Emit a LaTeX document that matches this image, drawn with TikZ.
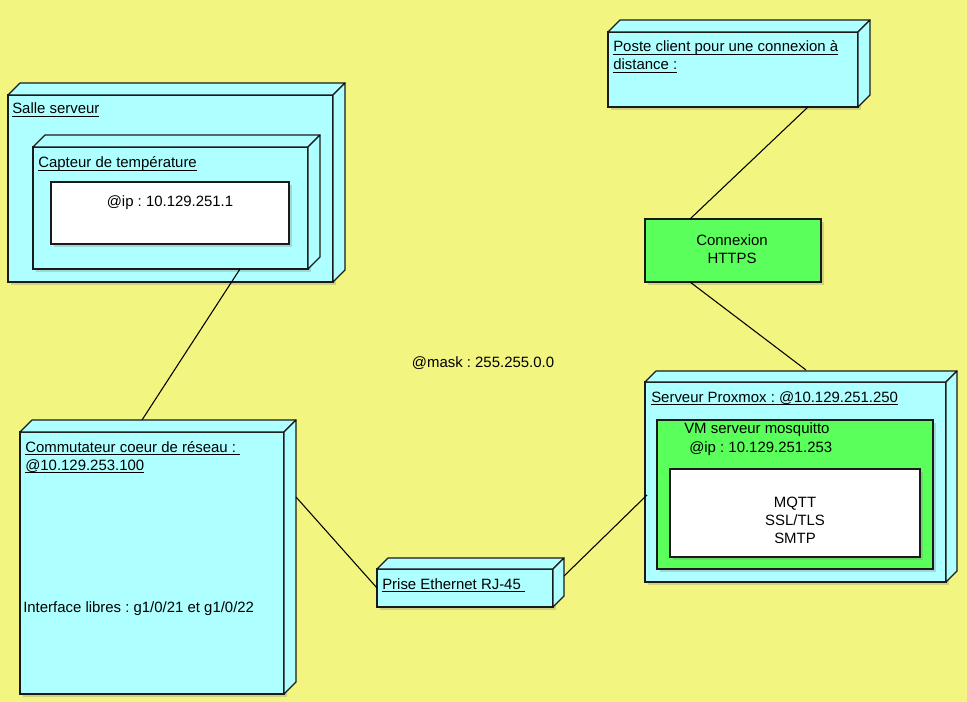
\documentclass[tikz,border=0pt]{standalone}
\usepackage{fontspec}
\setmainfont{Liberation Sans}
\usetikzlibrary{fit,shadows}
\frenchspacing

\definecolor{fondjaune}{RGB}{242,246,128}
\definecolor{cyanbox}{RGB}{174,255,255}
\definecolor{vertbox}{RGB}{91,255,91}
\definecolor{bord}{RGB}{26,26,26}

\tikzset{
	noeud/.style={draw=bord, line width=0.9pt, inner sep=0pt, outer sep=0pt,
		drop shadow={shadow xshift=2pt, shadow yshift=-2pt, opacity=0.3}},
	face/.style={draw=bord, line width=0.9pt, line join=round},
	lbl/.style={inner sep=0pt, font=\fontsize{11.2}{13.75}\selectfont},
	lien/.style={draw=black, line width=0.8pt},
}
\newcommand\souligne[1]{\underline{\smash{#1}}}
% faces du dessus et de droite d'un noeud en relief
\newcommand\relief[3][12]{%
	\draw[face, fill=#3] (#2.north west) -- ++(#1,-#1) -- ([shift={(#1,-#1)}]#2.north east) -- (#2.north east) -- cycle;
	\draw[face, fill=#3] (#2.north east) -- ++(#1,-#1) -- ([shift={(#1,-#1)}]#2.south east) -- (#2.south east) -- cycle;}

\begin{document}
\begin{tikzpicture}[x=0.75pt, y=-0.75pt]
	\fill[fondjaune] (0,0) rectangle (967,702);
	\useasboundingbox (0,0) rectangle (967,702);

	% salle serveur
	\node[noeud, fill=cyanbox, fit={(8,95) (333,282)}] (salle) {};
	\relief{salle}{cyanbox}
	\node[lbl, anchor=base west] (salletxt) at (12,114) {\souligne{Salle serveur}};
	\node[noeud, fill=cyanbox, fit={(33,147) (308,269)}] (capteur) {};
	\relief{capteur}{cyanbox}
	\node[lbl, anchor=base west] (capteurtxt) at (38,168) {\souligne{Capteur de température}};
	\node[noeud, fill=white, fit={(51,182) (289,244)}] (capteurip) {};
	\node[lbl, anchor=base] (capteuriptxt) at (170,207) {@ip : 10.129.251.1};

	% poste client
	\node[noeud, fill=cyanbox, fit={(608,32) (858,107)}] (poste) {};
	\relief{poste}{cyanbox}
	\node[lbl, anchor=base west] (postetxt) at (613,52) {\souligne{Poste client pour une connexion à}};
	\node[lbl, anchor=base west] (postetxtb) at (613,70) {\souligne{distance :}};

	% connexion https
	\node[noeud, fill=vertbox, fit={(645,219) (821,282)}] (https) {};
	\node[lbl, anchor=base] (httpstxt) at (732,246) {Connexion};
	\node[lbl, anchor=base] (httpstxtb) at (732,264) {HTTPS};

	% serveur proxmox
	\node[noeud, fill=cyanbox, fit={(645,382) (946,582)}] (proxmox) {};
	\relief[11]{proxmox}{cyanbox}
	\node[lbl, anchor=base west] (proxmoxtxt) at (651,402) {\souligne{Serveur Proxmox : @10.129.251.250}};
	\node[noeud, fill=vertbox, fit={(657,420) (933,569)}] (vm) {};
	\node[lbl, anchor=base west] (vmtxt) at (684,433) {VM serveur mosquitto};
	\node[lbl, anchor=base west] (vmtxtb) at (689,452) {@ip : 10.129.251.253};
	\node[noeud, fill=white, fit={(670,469) (920,557)}] (services) {};
	\node[lbl, anchor=base] (mqtt) at (795,507) {MQTT};
	\node[lbl, anchor=base] (ssl) at (795,525) {SSL/TLS};
	\node[lbl, anchor=base] (smtp) at (795,543) {SMTP};

	% commutateur
	\node[noeud, fill=cyanbox, fit={(20,432) (284,694)}] (commut) {};
	\relief{commut}{cyanbox}
	\node[lbl, anchor=base west] (commuttxt) at (25,452) {\souligne{Commutateur coeur de réseau :\ }};
	\node[lbl, anchor=base west] (commuttxtb) at (25,470) {\souligne{@10.129.253.100}};
	\node[lbl, anchor=base west] (interfaces) at (23,612) {Interface libres : g1/0/21 et g1/0/22};

	% prise
	\node[noeud, fill=cyanbox, fit={(377,569) (553,607)}] (prise) {};
	\relief[11]{prise}{cyanbox}
	\node[lbl, anchor=base west] (prisetxt) at (382,589) {\souligne{Prise Ethernet RJ-45\ }};

	\node[lbl, anchor=base] (masque) at (483,367) {@mask : 255.255.0.0};

	% liens
	\draw[lien] ([shift={(207,0)}]capteur.south west) -- ([shift={(122,-12)}]commut.north west);
	\draw[lien] ([shift={(200,0)}]poste.south west) -- ([shift={(45,0)}]https.north west);
	\draw[lien] ([shift={(45,0)}]https.south west) -- ([shift={(161,-12)}]proxmox.north west);
	\draw[lien] ([shift={(12,65)}]commut.north east) -- (prise.west);
	\draw[lien] ([shift={(11,-12)}]prise.east) -- ([shift={(2,113)}]proxmox.north west);
\end{tikzpicture}
\end{document}
